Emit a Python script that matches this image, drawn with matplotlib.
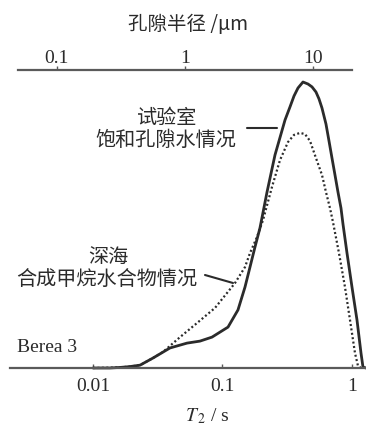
import numpy as np
import matplotlib
matplotlib.use('Agg')
import matplotlib.pyplot as plt
from matplotlib.ticker import NullLocator

################################################
# values
# T2 [s] and relative amplitude (peak of lab curve = 1)
t2_lab = [0.0100, 0.0135, 0.0162, 0.0193, 0.0231, 0.0291, 0.0393, 0.0532,
          0.0670, 0.0830, 0.1103, 0.1317, 0.1492, 0.1631, 0.1782, 0.1948,
          0.2207, 0.2544, 0.3039, 0.3321, 0.3566, 0.3828, 0.4184, 0.4575,
          0.4911, 0.5272, 0.5562, 0.5866, 0.6298, 0.6644, 0.7008, 0.7391,
          0.7797, 0.8225, 0.8523, 0.9151, 1.0000, 1.0930, 1.1740, 1.2160,
          1.2830]
amp_lab = [0.000, 0.000, 0.002, 0.005, 0.010, 0.035, 0.070, 0.087,
           0.094, 0.108, 0.143, 0.203, 0.283, 0.353, 0.423, 0.490,
           0.615, 0.745, 0.867, 0.913, 0.951, 0.979, 1.000, 0.993,
           0.983, 0.965, 0.941, 0.909, 0.853, 0.794, 0.734, 0.675,
           0.615, 0.559, 0.503, 0.402, 0.283, 0.168, 0.052, 0.003,
           0.000]

t2_sea = [0.0100, 0.0162, 0.0193, 0.0231, 0.0291, 0.0347, 0.0470, 0.0635,
          0.0875, 0.1249, 0.1492, 0.1631, 0.1847, 0.2055, 0.2411, 0.2780,
          0.3205, 0.3566, 0.3967, 0.4336, 0.4740, 0.5272, 0.5866, 0.6298,
          0.6763, 0.7134, 0.7934, 0.8829, 0.9651, 1.0550, 1.1130, 1.1740]
amp_sea = [0.000, 0.002, 0.005, 0.010, 0.035, 0.056, 0.108, 0.157,
           0.210, 0.297, 0.353, 0.402, 0.458, 0.517, 0.633, 0.727,
           0.790, 0.815, 0.822, 0.818, 0.794, 0.734, 0.675, 0.615,
           0.559, 0.510, 0.402, 0.283, 0.168, 0.052, 0.007, 0.000]

t2_ticks = [0.01, 0.1, 1]
t2_ticklabels = ['0.01', '0.1', '1']
r_ticks = [0.1, 1, 10]
r_ticklabels = ['0.1', '1', '10']

W, H = 366, 429
CJK = ['Noto Sans CJK SC', 'DejaVu Sans']
INK = '#2b2b2b'

################################################
def px(x, y):
    # picture pixel (from top left) -> figure fraction
    return x / W, 1 - y / H

################################################
def makePlots():
    plt.rcParams['font.family'] = ['Liberation Serif', 'DejaVu Serif']
    plt.rcParams['mathtext.fontset'] = 'stix'

    fig = plt.figure(figsize=(W / 100, H / 100), dpi=100)

    #main T2 axis, only the bottom line
    ax = fig.add_axes([10 / W, 1 - 368 / H, 356 / W, 298 / H])
    ax.patch.set_alpha(0)
    ax.set_xscale('log')
    ax.set_xlim(0.002286, 1.283)
    ax.set_ylim(0, 1.042)
    for s in ['top', 'left', 'right']:
        ax.spines[s].set_visible(False)
    ax.spines['bottom'].set_color('#5a5a5a')
    ax.spines['bottom'].set_linewidth(1.6)
    ax.set_yticks([])
    ax.set_xticks(t2_ticks, t2_ticklabels)
    ax.xaxis.set_minor_locator(NullLocator())
    ax.tick_params(axis='x', direction='in', length=3, width=1, colors='#5a5a5a',
                   labelcolor=INK, labelsize=14, pad=7)

    ax.plot(t2_lab, amp_lab, color=INK, lw=2.0, solid_capstyle='round',
            solid_joinstyle='round', clip_on=False)
    ax.plot(t2_sea, amp_sea, color=INK, lw=1.6, linestyle=(0, (0.9, 1.1)), clip_on=False)

    #pore radius axis on top
    ax2 = fig.add_axes([18 / W, 1 - 70 / H - 0.01, 334 / W, 0.01])
    ax2.patch.set_alpha(0)
    ax2.set_xscale('log')
    ax2.set_xlim(0.05, 20)
    for s in ['bottom', 'left', 'right']:
        ax2.spines[s].set_visible(False)
    ax2.spines['top'].set_color('#5a5a5a')
    ax2.spines['top'].set_linewidth(1.6)
    ax2.set_yticks([])
    ax2.xaxis.tick_top()
    ax2.set_xticks(r_ticks, r_ticklabels)
    ax2.xaxis.set_minor_locator(NullLocator())
    ax2.tick_params(axis='x', direction='out', length=3, width=1, colors='#5a5a5a',
                    labelcolor=INK, labelsize=14, pad=-1)

    #labels
    fig.text(*px(188, 25), '孔隙半径 /μm', family=CJK, fontsize=14, color=INK,
             ha='center', va='center')
    fig.text(*px(207, 416), r'$T_{\,2}$ / s', fontsize=14, color=INK,
             ha='center', va='center')
    fig.text(*px(17, 347), 'Berea 3', fontsize=14, color=INK, ha='left', va='center')

    #annotations
    fig.text(*px(167, 118), '试验室', family=CJK, fontsize=14.5, color=INK,
             ha='center', va='center')
    fig.text(*px(166, 140), '饱和孔隙水情况', family=CJK, fontsize=14.5, color=INK,
             ha='center', va='center')
    fig.text(*px(108, 257), '深海', family=CJK, fontsize=14.5, color=INK,
             ha='center', va='center')
    fig.text(*px(107, 280), '合成甲烷水合物情况', family=CJK, fontsize=14.5, color=INK,
             ha='center', va='center')

    ax.annotate('', xy=px(277, 128), xycoords='figure fraction',
                xytext=px(247, 128), textcoords='figure fraction',
                arrowprops=dict(arrowstyle='-', color=INK, lw=1.5,
                                shrinkA=0, shrinkB=0))
    ax.annotate('', xy=px(233, 283), xycoords='figure fraction',
                xytext=px(205, 275), textcoords='figure fraction',
                arrowprops=dict(arrowstyle='-', color=INK, lw=1.5,
                                shrinkA=0, shrinkB=0))

    plt.savefig('out.png', dpi=100)

################################################
if __name__ == '__main__':
    makePlots()
